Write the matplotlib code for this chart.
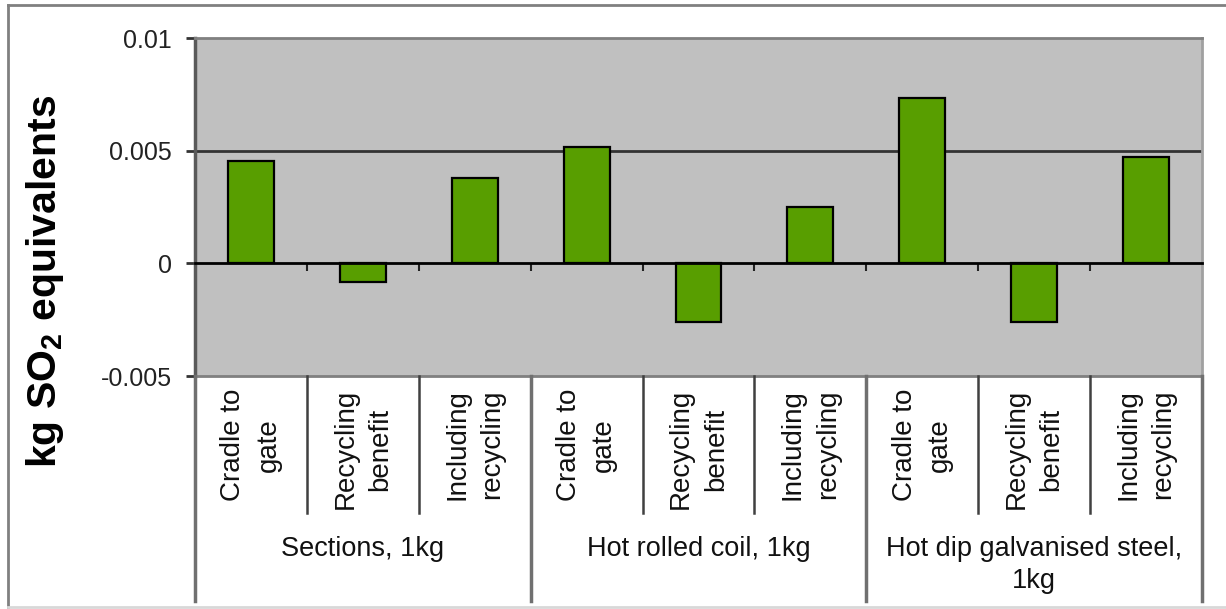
import numpy as np
import matplotlib
matplotlib.use("Agg")
import matplotlib.pyplot as plt
from matplotlib import transforms
from matplotlib.lines import Line2D

plt.rcParams['font.family'] = 'Liberation Sans'
plt.rcParams['mathtext.fontset'] = 'custom'
plt.rcParams['mathtext.rm'] = 'Liberation Sans'
plt.rcParams['mathtext.bf'] = 'Liberation Sans:bold'
plt.rcParams['mathtext.it'] = 'Liberation Sans:italic'

# kg SO2 equivalents per 1kg of product
groups = ["Sections, 1kg", "Hot rolled coil, 1kg", "Hot dip galvanised steel,\n1kg"]
stages = ["Cradle to\ngate", "Recycling\nbenefit", "Including\nrecycling"]
sections = [0.00453, -0.00081, 0.00378]
hot_rolled = [0.00515, -0.00262, 0.0025]
galvanised = [0.00735, -0.00262, 0.0047]

values = sections + hot_rolled + galvanised
n = len(values)
x = np.arange(n)

W, H = 1226, 609
fig = plt.figure(figsize=(W / 100, H / 100), dpi=100)

def px(xp, yp):
    return xp / W, 1 - yp / H

ax = fig.add_axes([195 / W, 1 - 376 / H, (1202 - 195) / W, (376 - 38) / H])
ax.set_facecolor('#c0c0c0')

ax.bar(x, values, width=0.41, color='#589e00', edgecolor='black', linewidth=1.6, zorder=3)

ax.set_xlim(-0.5, n - 0.5)
ax.set_ylim(-0.005, 0.01)
ax.set_yticks([-0.005, 0, 0.005, 0.01])
ax.set_yticklabels(["-0.005", "0", "0.005", "0.01"])
ax.axhline(0.005, color='#333333', lw=2, zorder=1)
ax.axhline(-0.005, color='#808080', lw=2, zorder=4, clip_on=False)

# zero line carries the category divider ticks
ax.spines['bottom'].set_position(('data', 0))
ax.spines['bottom'].set_color('black')
ax.spines['bottom'].set_linewidth(2)
ax.spines['bottom'].set_zorder(4)
ax.spines['left'].set_color('#5a5a5a')
ax.spines['left'].set_linewidth(2.5)
ax.spines['top'].set_color('#808080')
ax.spines['top'].set_linewidth(2)
ax.spines['right'].set_color('#a0a0a0')
ax.spines['right'].set_linewidth(2)

ax.set_xticks(np.arange(0.5, n - 1, 1.0))
ax.set_xticklabels([])
ax.tick_params(axis='x', direction='out', length=6, width=1.5, color='#222222')
ax.tick_params(axis='y', direction='out', length=6.5, width=2, color='#333333',
               labelsize=18, labelcolor='#222222', pad=10)

# category table below the plot
trans = transforms.blended_transform_factory(ax.transData, fig.transFigure)
for i in range(n):
    ax.text(i, px(0, 389)[1], stages[i % 3], transform=trans, rotation=90,
            ha='center', va='top', multialignment='center', fontsize=20,
            color='#111111', linespacing=1.45)

for b in np.arange(-0.5, n, 1.0):
    if int(b + 0.5) % 3 == 0:
        line = Line2D([b, b], [px(0, 376)[1], px(0, 601)[1]], transform=trans,
                      color='#707070', lw=2.5, clip_on=False)
    else:
        line = Line2D([b, b], [px(0, 376)[1], px(0, 513)[1]], transform=trans,
                      color='#404040', lw=1.8, clip_on=False)
    fig.add_artist(line)

for g, name in enumerate(groups):
    ax.text(3 * g + 1, px(0, 536)[1], name, transform=trans, ha='center', va='top',
            fontsize=19.5, color='#111111', linespacing=1.3)

fig.text(*px(45, 281), r"kg SO$_\mathbf{2}$ equivalents", rotation=90,
         ha='center', va='center', fontsize=29.5, fontweight='bold')

# outer frame
fig.add_artist(Line2D([8 / W, 1], [1 - 5 / H, 1 - 5 / H], transform=fig.transFigure,
                      color='#808080', lw=2))
fig.add_artist(Line2D([8 / W, 8 / W], [1 - 5 / H, 1 - 607 / H], transform=fig.transFigure,
                      color='#808080', lw=2))
fig.add_artist(Line2D([8 / W, 1], [1 - 607 / H, 1 - 607 / H], transform=fig.transFigure,
                      color='#d8d8d8', lw=2))

fig.savefig("out.png", dpi=100)
